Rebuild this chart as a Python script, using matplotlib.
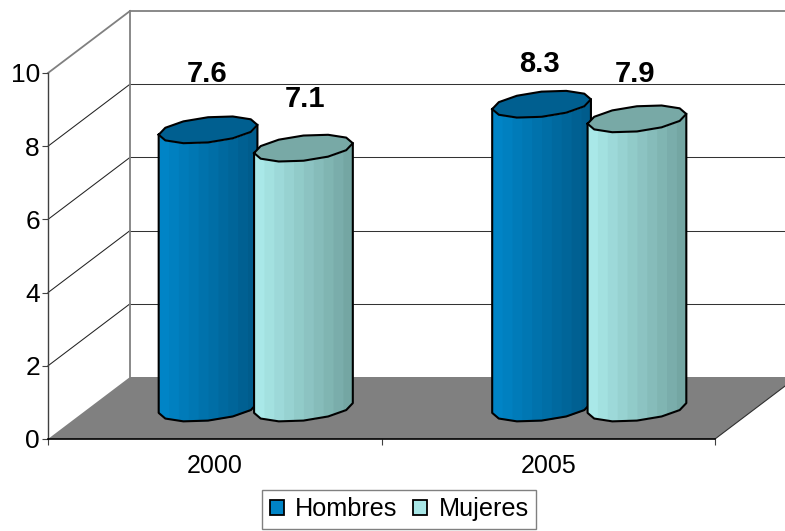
import numpy as np
import matplotlib
matplotlib.use("Agg")
import matplotlib.pyplot as plt
from matplotlib.patches import Patch
from matplotlib.colors import to_rgb

plt.rcParams['font.family'] = ['Liberation Sans', 'DejaVu Sans']

years = ['2000', '2005']
hombres = [7.6, 8.3]
mujeres = [7.1, 7.9]
series_names = ['Hombres', 'Mujeres']
yticks = [0, 2, 4, 6, 8, 10]

# look of each series: light side, dark side, top cap
styles = [('#0084C6', '#005C8C', '#005F90'), ('#A9E8E8', '#74A6A3', '#78A9A6')]
# where each value label sits relative to the top of its cylinder, in points
label_lift = [[40.5, 35.5], [29, 32.5]]
label_shift = [[-1, 1], [-1.5, -1.5]]

W, H = 785, 531
fig = plt.figure(figsize=(W / 100, H / 100), dpi=100)
ax = fig.add_axes([48 / W, (H - 439) / H, 667 / W, 366 / H])
ax.patch.set_visible(False)
ax.set_xlim(0, 2)
ax.set_ylim(0, 10)

# depth of the fake 3d box in data units
dx = 82 / 333.5
dy = 62 / 36.6

# floor and back wall
ax.fill([0, 2, 2 + dx, dx], [0, 0, dy, dy], color='#808080', zorder=1, clip_on=False, lw=0)
ax.plot([2, 2 + dx], [0, dy], color='#303030', lw=0.8, zorder=1, clip_on=False)
for v in yticks[1:]:
    col = '#808080' if v == 10 else '#222222'
    lw = 1.3 if v == 10 else 0.75
    ax.plot([0, dx], [v, v + dy], color=col, lw=lw, zorder=1, clip_on=False)
    ax.plot([dx, 2 + dx], [v + dy, v + dy], color='#808080' if v == 10 else '#333333', lw=lw, zorder=1, clip_on=False)
ax.plot([dx, dx], [dy, 10 + dy], color='#808080', lw=1.3, zorder=1, clip_on=False)


def cylinder(xc, value, style, z):
    # circle on the floor plane seen through the same skew as the box
    a = 0.138
    r = 0.218
    t0 = np.arctan2(r * dx * 333.5, a * 333.5)
    t = t0 + np.pi + np.linspace(0, 2 * np.pi, 13)
    ex = xc + dx / 2 + a * np.cos(t) + r * dx * np.sin(t)
    ey = dy / 2 + r * dy * np.sin(t)

    # first half of the turn is the front edge, left to right
    fx, fy = ex[:7], ey[:7]
    n = 10
    edges = np.linspace(fx[0], fx[-1], n + 1)
    light, dark = np.array(to_rgb(style[0])), np.array(to_rgb(style[1]))
    for k in range(n):
        # each band runs a little under the next one so no gap shows
        right = edges[k + 1] + (0.006 if k < n - 1 else 0)
        xs = np.linspace(edges[k], right, 8)
        low = np.interp(xs, fx, fy)
        f = k / (n - 1)
        ax.fill_between(xs, low, low + value, color=light + (dark - light) * f,
                        lw=0, zorder=z, clip_on=False)
    ax.fill(ex, ey + value, color=style[2], zorder=z + 0.1, lw=0, clip_on=False)
    ax.plot(ex, ey + value, color='k', lw=1.5, zorder=z + 0.2, clip_on=False)
    ax.plot(np.r_[fx[0], fx, fx[-1]], np.r_[fy[0] + value, fy, fy[-1] + value],
            color='k', lw=1.5, zorder=z + 0.2, clip_on=False)
    return xc + dx / 2, value + dy / 2


z = 3
for i, year in enumerate(years):
    for j, vals in enumerate([hombres, mujeres]):
        xc = i + 0.5 + (j - 0.5) * 0.286
        tx, ty = cylinder(xc, vals[i], styles[j], z)
        ax.annotate('%.1f' % vals[i], (tx, ty), xytext=(label_shift[i][j], label_lift[i][j]),
                    textcoords='offset points', ha='center', va='center',
                    fontsize=21, fontweight='bold', color='k', zorder=10, annotation_clip=False)
        z += 1

ax.spines['top'].set_visible(False)
ax.spines['right'].set_visible(False)
ax.spines['left'].set_color('#404040')
ax.spines['left'].set_linewidth(1.0)
ax.spines['bottom'].set_color('#000000')
ax.spines['bottom'].set_linewidth(1.2)
ax.spines['left'].set_zorder(2)
ax.spines['bottom'].set_zorder(2)

ax.set_yticks(yticks)
ax.tick_params(axis='y', labelsize=19, length=4.3, width=0.8, color='#404040', pad=1.5)
ax.set_xticks([0, 1, 2])
ax.set_xticklabels([])
ax.set_xticks([0.5, 1.5], minor=True)
ax.set_xticklabels(years, minor=True)
ax.tick_params(axis='x', which='major', length=4.3, width=0.8, color='#404040')
ax.tick_params(axis='x', which='minor', length=0, labelsize=18, pad=11)

handles = [Patch(facecolor=styles[0][0], edgecolor='k', lw=1.3),
           Patch(facecolor=styles[1][0], edgecolor='k', lw=1.3)]
leg = fig.legend(handles, series_names, loc='lower left', bbox_to_anchor=(262 / W, (H - 529) / H),
                 ncol=2, fontsize=18.2, frameon=True, fancybox=False, edgecolor='#808080',
                 framealpha=1, borderpad=0.3, handlelength=0.56, handleheight=0.56,
                 handletextpad=0.46, columnspacing=0.6, borderaxespad=0)
leg.get_frame().set_linewidth(1.0)

fig.savefig('out.png', dpi=100)
